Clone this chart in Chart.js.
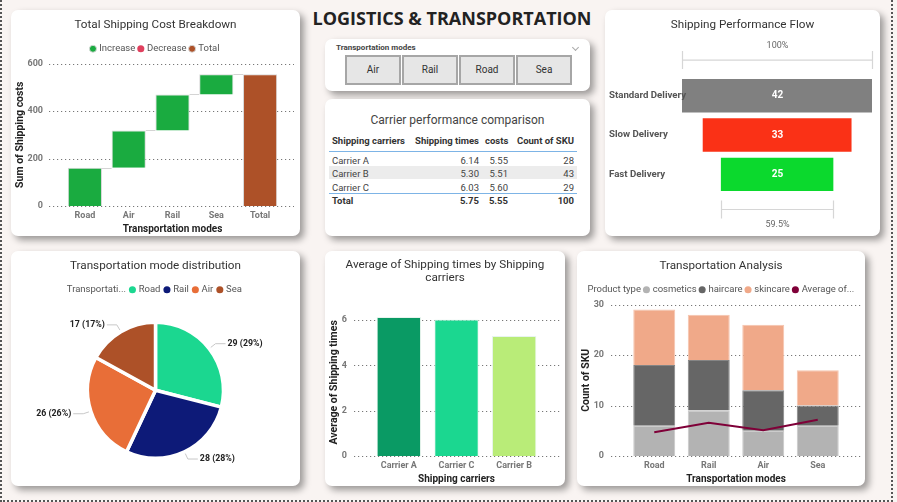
<!DOCTYPE html>
<html>
<head>
<meta charset="utf-8">
<title>Logistics & Transportation</title>
<script src="https://cdn.jsdelivr.net/npm/chart.js@4"></script>
<style>
  html, body { margin: 0; padding: 0; background: #f9f4f2; overflow: hidden; }
  body { width: 897px; height: 502px; position: relative; font-family: Roboto, sans-serif; color: #333; }
  .frame { position: absolute; left: 0; top: -4px; width: 889px; height: 504px; border: 2px dotted #555; border-top: none; }
  .card { position: absolute; background: #fff; border-radius: 7px; box-shadow: 4px 4px 7px rgba(0,0,0,.38); }
  .card canvas { position: absolute; left: 0; top: 0; }
  h1 { position: absolute; left: 300px; top: 6px; width: 304px; margin: 0; text-align: center; font: 700 18px "Open Sans", sans-serif; color: #222; white-space: nowrap; }
  .slicer-label { position: absolute; left: 11px; top: 4px; font: 700 8px Roboto, sans-serif; color: #444; }
  .chevron { position: absolute; left: 248px; top: 6px; width: 4px; height: 4px; border-right: 1px solid #aaa; border-bottom: 1px solid #aaa; transform: rotate(45deg); }
  .btn { position: absolute; top: 16px; height: 26px; box-sizing: content-box; width: 52px; background: #e6e6e6; border: 2px solid #a6a6a6; text-align: center; font-size: 10px; line-height: 26px; color: #333; }
  .tbl-title { position: absolute; left: 0; right: 0; top: 14px; text-align: center; font-size: 12px; color: #444; }
  table { position: absolute; left: 4px; top: 33px; width: 248px; border-collapse: collapse; font-size: 9.5px; color: #444; table-layout: fixed; }
  th { font-weight: 700; color: #333; text-align: right; height: 16px; padding: 0 3px 3px 3px; white-space: nowrap; border-bottom: 1px solid #7db4e6; }
  td { text-align: right; height: 13.7px; padding: 0 3px; vertical-align: bottom; }
  th:first-child, td:first-child { text-align: left; }
  tr.alt td { background: #ececec; }
  tr.total td { font-weight: 700; color: #333; border-top: 1px solid #7db4e6; vertical-align: middle; }
</style>
</head>
<body>
<div class="frame"></div>
<h1>LOGISTICS &amp; TRANSPORTATION</h1>

<div class="card" style="left:11px;top:10px;width:289px;height:226px"><canvas id="waterfall" width="289" height="226"></canvas></div>

<div class="card" style="left:325px;top:39px;width:265px;height:52px">
  <div class="slicer-label">Transportation modes</div>
  <div class="chevron"></div>
  <div id="slicer"></div>
</div>

<div class="card" style="left:325px;top:99px;width:265px;height:137px">
  <div class="tbl-title">Carrier performance comparison</div>
  <table id="carrierTable"></table>
</div>

<div class="card" style="left:605px;top:10px;width:275px;height:226px"><canvas id="funnel" width="275" height="226"></canvas></div>
<div class="card" style="left:11px;top:251px;width:289px;height:235px"><canvas id="pie" width="289" height="235"></canvas></div>
<div class="card" style="left:325px;top:251px;width:240px;height:235px"><canvas id="carrierBars" width="240" height="235"></canvas></div>
<div class="card" style="left:577px;top:251px;width:288px;height:235px"><canvas id="stacked" width="288" height="235"></canvas></div>

<script>
// waterfall
const costLabels = ["Road", "Air", "Rail", "Sea", "Total"];
const costIncrease = [[0, 161], [161, 318], [318, 470], [470, 555], null];
const costTotal = [null, null, null, null, [0, 555]];

// slicer + table
const slicerModes = ["Air", "Rail", "Road", "Sea"];
const tableHeader = ["Shipping carriers", "Shipping times", "costs", "Count of SKU"];
const tableRows = [
  ["Carrier A", "6.14", "5.55", "28"],
  ["Carrier B", "5.30", "5.51", "43"],
  ["Carrier C", "6.03", "5.60", "29"]
];
const tableTotal = ["Total", "5.75", "5.55", "100"];

// funnel
const funnelLabels = ["Standard Delivery", "Slow Delivery", "Fast Delivery"];
const funnelValues = [42, 33, 25];
const funnelColors = ["#808080", "#fa3116", "#0bd92d"];
const funnelTopText = "100%";
const funnelBottomText = "59.5%";

// pie
const pieLabels = ["Road", "Rail", "Air", "Sea"];
const pieValues = [29, 28, 26, 17];
const pieColors = ["#1bd790", "#0d1a78", "#e86e38", "#ad5128"];

// average shipping time
const carrierNames = ["Carrier A", "Carrier C", "Carrier B"];
const carrierTimes = [6.14, 6.03, 5.30];
const carrierColors = ["#0a9a64", "#1bd790", "#b9ec78"];

// stacked + line
const modeLabels = ["Road", "Rail", "Air", "Sea"];
const cosmetics = [6, 9, 5, 6];
const haircare = [12, 10, 8, 4];
const skincare = [11, 9, 13, 7];
const averageLine = [4.7, 6.6, 5.1, 7.2];

const FONT = "Roboto, sans-serif";
const titleFont = { family: FONT, size: 11.7, weight: "normal" };
const tickFont = { family: FONT, size: 9, weight: "bold" };
const axisFont = { family: FONT, size: 10.5, weight: "bold" };
const xAxisFont = { family: FONT, size: 10, weight: "bold" };
const legendFont = { family: FONT, size: 9.5 };

// title and legend stay centred on the whole card, whatever the plot padding is
Chart.register({
  id: "centerBlocks",
  afterLayout(chart) {
    const fitOpts = chart.options.plugins.legendFit;
    const shift = fitOpts && fitOpts.shift ? fitOpts.shift : 0;
    if (chart.titleBlock) {
      chart.titleBlock.left = 0;
      chart.titleBlock.right = chart.width;
      chart.titleBlock.width = chart.width;
    }
    if (chart.legend) {
      // a caption entry has an empty marker in front of it, pull the row back over it
      chart.legend.left = -shift;
      chart.legend.right = chart.width - shift;
      chart.legend.width = chart.width;
    }
  }
});

// dotted grid lines that run past the category band
const dottedGrid = {
  id: "dottedGrid",
  beforeDatasetsDraw(chart, args, opts) {
    const { ctx, chartArea, scales } = chart;
    ctx.save();
    ctx.strokeStyle = "#777";
    ctx.lineWidth = 1;
    ctx.setLineDash([1.2, 2.8]);
    scales.y.ticks.forEach(t => {
      const y = Math.round(scales.y.getPixelForValue(t.value)) + 0.5;
      ctx.beginPath();
      ctx.moveTo(chartArea.left - opts.left, y);
      ctx.lineTo(chartArea.right + opts.right, y);
      ctx.stroke();
    });
    ctx.restore();
  }
};

// legend has no margin option, so pad its box and let it use the full card width
const legendFit = {
  id: "legendFit",
  beforeInit(chart, args, opts) {
    const fit = chart.legend.fit;
    chart.legend.fit = function () {
      this.maxWidth = chart.width;
      fit.call(this);
      this.height += opts.gap;
    };
  }
};

// thin connectors between the waterfall steps
const connectors = {
  id: "connectors",
  afterDatasetsDraw(chart) {
    const { ctx } = chart;
    const inc = chart.getDatasetMeta(0).data;
    const total = chart.getDatasetMeta(2).data;
    const bars = [inc[0], inc[1], inc[2], inc[3], total[4]];
    ctx.save();
    ctx.strokeStyle = "#d4d4d4";
    ctx.lineWidth = 1;
    for (let i = 0; i < bars.length - 1; i++) {
      const a = bars[i], b = bars[i + 1];
      const y = Math.round(a.y) + 0.5;
      ctx.beginPath();
      ctx.moveTo(a.x + a.width / 2, y);
      ctx.lineTo(b.x - b.width / 2, y);
      ctx.stroke();
    }
    ctx.restore();
  }
};

// names, centre numbers and the two dimension brackets on the funnel
const funnelDecor = {
  id: "funnelDecor",
  afterDatasetsDraw(chart) {
    const { ctx, chartArea, scales } = chart;
    const bars = chart.getDatasetMeta(0).data;
    ctx.save();
    ctx.textBaseline = "middle";
    ctx.textAlign = "center";
    ctx.fillStyle = "#fff";
    ctx.font = "bold 10px " + FONT;
    bars.forEach((b, i) => ctx.fillText(funnelValues[i], (scales.x.left + scales.x.right) / 2, b.y));

    // the axis clips its labels to its own box, and the top name runs onto the bar
    ctx.textAlign = "left";
    ctx.fillStyle = "#555";
    ctx.font = "bold 9.7px " + FONT;
    bars.forEach((b, i) => ctx.fillText(funnelLabels[i], 4, b.y));

    ctx.textAlign = "center";
    const bracket = (half, y, text, textY) => {
      const x1 = Math.round(scales.x.getPixelForValue(-half)) + 0.5;
      const x2 = Math.round(scales.x.getPixelForValue(half)) - 0.5;
      ctx.strokeStyle = "#d6d6d6";
      ctx.lineWidth = 1.2;
      ctx.beginPath();
      ctx.moveTo(x1, y); ctx.lineTo(x2, y);
      ctx.moveTo(x1, y - 9); ctx.lineTo(x1, y + 9);
      ctx.moveTo(x2, y - 9); ctx.lineTo(x2, y + 9);
      ctx.stroke();
      ctx.fillStyle = "#666";
      ctx.font = "9px " + FONT;
      ctx.fillText(text, (x1 + x2) / 2, textY);
    };
    bracket(funnelValues[0] / 2, chartArea.top - 16, funnelTopText, chartArea.top - 30);
    bracket(funnelValues[funnelValues.length - 1] / 2, chartArea.bottom + 15.5, funnelBottomText, chartArea.bottom + 31);
    ctx.restore();
  }
};

// outside labels with leader lines on the pie
const pieCallouts = {
  id: "pieCallouts",
  afterDatasetsDraw(chart) {
    const { ctx } = chart;
    const sum = pieValues.reduce((a, b) => a + b, 0);
    ctx.save();
    ctx.font = "bold 8.8px " + FONT;
    ctx.textBaseline = "middle";
    chart.getDatasetMeta(0).data.forEach((arc, i) => {
      const mid = (arc.startAngle + arc.endAngle) / 2;
      const cos = Math.cos(mid), sin = Math.sin(mid);
      const x0 = arc.x + cos * (arc.outerRadius + 2);
      const y0 = arc.y + sin * (arc.outerRadius + 2);
      const x1 = arc.x + cos * (arc.outerRadius + 8);
      const y1 = arc.y + sin * (arc.outerRadius + 8);
      const dir = cos >= 0 ? 1 : -1;
      const x2 = x1 + dir * 10;
      ctx.strokeStyle = "#c8c8c8";
      ctx.lineWidth = 1;
      ctx.beginPath();
      ctx.moveTo(x0, y0); ctx.lineTo(x1, y1); ctx.lineTo(x2, y1);
      ctx.stroke();
      ctx.fillStyle = "#222";
      ctx.textAlign = dir > 0 ? "left" : "right";
      ctx.fillText(pieValues[i] + " (" + Math.round(pieValues[i] / sum * 100) + "%)", x2 + dir * 2, y1);
    });
    ctx.restore();
  }
};

const fixW = w => s => { s.width = w; };
const fixH = h => s => { s.height = h; };

function legendOpts(items, spacing) {
  const opts = {
    position: "top",
    onClick: null,
    labels: { font: legendFont, color: "#555", usePointStyle: true, pointStyle: "circle", boxHeight: 5, boxWidth: 3, padding: spacing || 4 }
  };
  if (items) opts.labels.generateLabels = () => items;
  return opts;
}

function legendItem(text, color) {
  return { text, fillStyle: color, strokeStyle: color, lineWidth: 0, pointStyle: "circle", fontColor: "#555", hidden: false };
}

function xAxis(title, height) {
  return {
    grid: { display: false, drawTicks: false },
    border: { display: false },
    ticks: { font: tickFont, color: "#777", padding: 4, maxRotation: 0, autoSkip: false },
    title: { display: true, text: title, font: xAxisFont, color: "#222", padding: { top: 0, bottom: 1 } },
    afterFit: fixH(height)
  };
}

function yAxis(title, width, max, step, pad) {
  return {
    min: 0,
    max,
    grid: { display: false, drawTicks: false },
    border: { display: false },
    ticks: { font: tickFont, color: "#777", stepSize: step, padding: pad, includeBounds: false },
    title: { display: true, text: title, font: axisFont, color: "#222", padding: { top: 3, bottom: 0 } },
    afterFit: fixW(width)
  };
}

function titleOpts(text, bottom, lineHeight) {
  return { display: true, text, font: Object.assign({ lineHeight: lineHeight || 1.2 }, titleFont), color: "#333", padding: { top: 8, bottom } };
}

new Chart(document.getElementById("waterfall"), {
  type: "bar",
  data: {
    labels: costLabels,
    datasets: [
      { label: "Increase", data: costIncrease, backgroundColor: "#1aab40", borderColor: "#d8d8d8", borderWidth: 1, grouped: false, barPercentage: 0.78, categoryPercentage: 1 },
      { label: "Decrease", data: [null, null, null, null, null], backgroundColor: "#e0405e", borderColor: "#e0405e", grouped: false },
      { label: "Total", data: costTotal, backgroundColor: "#ad5128", borderColor: "#d8d8d8", borderWidth: 1, grouped: false, barPercentage: 0.78, categoryPercentage: 1 }
    ]
  },
  options: {
    responsive: false,
    animation: false,
    layout: { padding: { right: 18 } },
    scales: { x: xAxis("Transportation modes", 30), y: yAxis("Sum of Shipping costs", 52, 600, 200, 20) },
    plugins: {
      title: titleOpts("Total Shipping Cost Breakdown", 8),
      legend: legendOpts(),
      legendFit: { gap: 0 },
      dottedGrid: { left: 14, right: 12 },
      tooltip: { enabled: false }
    }
  },
  plugins: [legendFit, dottedGrid, connectors]
});

new Chart(document.getElementById("funnel"), {
  type: "bar",
  data: {
    labels: funnelLabels,
    datasets: [{
      data: funnelValues.map(v => [-v / 2, v / 2]),
      backgroundColor: funnelColors,
      borderColor: "rgba(255,255,255,.35)",
      borderWidth: 1,
      barPercentage: 0.9,
      categoryPercentage: 1
    }]
  },
  options: {
    indexAxis: "y",
    responsive: false,
    animation: false,
    layout: { padding: { left: 4, right: 7, bottom: 42 } },
    scales: {
      x: { display: false, min: -21, max: 21 },
      y: {
        grid: { display: false, drawTicks: false },
        border: { display: false },
        ticks: { display: false },
        afterFit: fixW(73)
      }
    },
    plugins: {
      title: titleOpts("Shipping Performance Flow", 44),
      legend: { display: false },
      tooltip: { enabled: false }
    }
  },
  plugins: [funnelDecor]
});

new Chart(document.getElementById("pie"), {
  type: "pie",
  data: {
    labels: pieLabels,
    datasets: [{ data: pieValues, backgroundColor: pieColors, borderColor: "#fff", borderWidth: 3.5 }]
  },
  options: {
    responsive: false,
    animation: false,
    layout: { padding: { bottom: 26 } },
    plugins: {
      title: titleOpts("Transportation mode distribution", 7),
      legend: legendOpts([legendItem("Transportati...", "rgba(0,0,0,0)")].concat(pieLabels.map((l, i) => legendItem(l, pieColors[i]))), 5),
      legendFit: { gap: 16, shift: 5 },
      tooltip: { enabled: false }
    }
  },
  plugins: [legendFit, pieCallouts]
});

new Chart(document.getElementById("carrierBars"), {
  type: "bar",
  data: {
    labels: carrierNames,
    datasets: [{ data: carrierTimes, backgroundColor: carrierColors, borderColor: "#e8f4ee", borderWidth: 1, barPercentage: 0.77, categoryPercentage: 1 }]
  },
  options: {
    responsive: false,
    animation: false,
    layout: { padding: { right: 22 } },
    scales: { x: xAxis("Shipping carriers", 30), y: yAxis("Average of Shipping times", 45, 6.5, 2, 23) },
    plugins: {
      title: titleOpts(["Average of Shipping times by Shipping", "carriers"], 24, 1.1),
      legend: { display: false },
      dottedGrid: { left: 16, right: 17 },
      tooltip: { enabled: false }
    }
  },
  plugins: [dottedGrid]
});

new Chart(document.getElementById("stacked"), {
  type: "bar",
  data: {
    labels: modeLabels,
    datasets: [
      { type: "line", label: "Average of...", data: averageLine, borderColor: "#7f0038", backgroundColor: "#7f0038", borderWidth: 2, pointRadius: 0, tension: 0, order: 0 },
      { label: "cosmetics", data: cosmetics, backgroundColor: "#b3b3b3", borderColor: "#c8c8c8", borderWidth: 1, stack: "sku", order: 1 },
      { label: "haircare", data: haircare, backgroundColor: "#666666", borderColor: "#858585", borderWidth: 1, stack: "sku", order: 1 },
      { label: "skincare", data: skincare, backgroundColor: "#f0a989", borderColor: "#f5c4ae", borderWidth: 1, stack: "sku", order: 1 }
    ]
  },
  options: {
    responsive: false,
    animation: false,
    datasets: { bar: { barPercentage: 0.77, categoryPercentage: 1 } },
    layout: { padding: { right: 20 } },
    scales: {
      x: Object.assign(xAxis("Transportation modes", 30), { stacked: true }),
      y: Object.assign(yAxis("Count of SKU", 50, 30, 10, 23), { stacked: true })
    },
    plugins: {
      title: titleOpts("Transportation Analysis", 8),
      legend: legendOpts([
        legendItem("Product type", "rgba(0,0,0,0)"),
        legendItem("cosmetics", "#b3b3b3"),
        legendItem("haircare", "#666666"),
        legendItem("skincare", "#f0a989"),
        legendItem("Average of...", "#7f0038")
      ], 4),
      legendFit: { gap: 0, shift: 4 },
      dottedGrid: { left: 16, right: 17 },
      tooltip: { enabled: false }
    }
  },
  plugins: [legendFit, dottedGrid]
});

// slicer buttons
slicerModes.forEach((m, i) => {
  const b = document.createElement("div");
  b.className = "btn";
  b.style.left = (20 + i * 57) + "px";
  b.textContent = m;
  document.getElementById("slicer").appendChild(b);
});

// carrier table
const colWidths = [79, 74, 29, 66];
const cells = (row, tag) => row.map(c => "<" + tag + ">" + c + "</" + tag + ">").join("");
document.getElementById("carrierTable").innerHTML =
  "<colgroup>" + colWidths.map(w => '<col style="width:' + w + 'px">').join("") + "</colgroup>" +
  "<tr>" + cells(tableHeader, "th") + "</tr>" +
  tableRows.map((r, i) => '<tr class="' + (i === 1 ? "alt" : "") + '">' + cells(r, "td") + "</tr>").join("") +
  '<tr class="total">' + cells(tableTotal, "td") + "</tr>";
</script>
</body>
</html>
